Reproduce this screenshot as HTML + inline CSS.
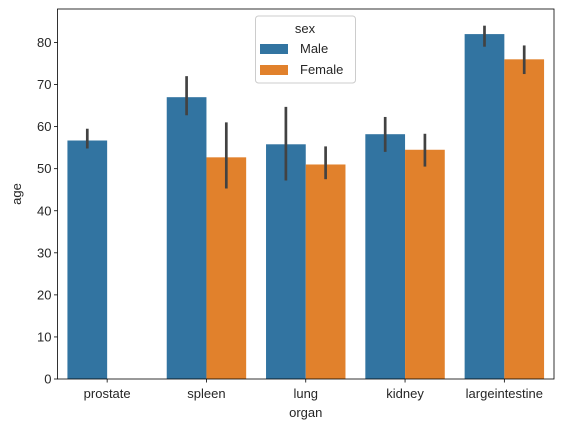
<!DOCTYPE html>
<html><head><meta charset="utf-8"><style>
body{margin:0;background:#fff;font-family:"Liberation Sans","DejaVu Sans",sans-serif;}
text{font-family:"Liberation Sans","DejaVu Sans",sans-serif;font-size:13px;fill:#262626;}
</style></head><body>
<svg id="chart" width="562" height="432" xmlns="http://www.w3.org/2000/svg"></svg>
<script>
const categories=["prostate","spleen","lung","kidney","largeintestine"];
const hues=["Male","Female"];
const maleVals=[56.7,67,55.8,58.2,82];
const maleLo=[54.8,62.7,47.2,54,79];
const maleHi=[59.5,72,64.7,62.3,84];
const femaleVals=[null,52.7,51,54.5,76];
const femaleLo=[null,45.3,47.5,50.5,72.5];
const femaleHi=[null,61,55.3,58.3,79.3];
const yTicks=[0,10,20,30,40,50,60,70,80];
const colors=["#3274a1","#e1812c"];
const L=57.5,R=554,T=9,B=379;
const ns="http://www.w3.org/2000/svg";
const svg=document.getElementById('chart');
function y(v){return B-v*(B-42.5)/80;}
const band=(R-L)/categories.length;
function mk(t,a,p){const e=document.createElementNS(ns,t);for(const k in a)e.setAttribute(k,a[k]);(p||svg).appendChild(e);return e;}
yTicks.forEach(v=>{
 const g=mk('g',{});
 
 
 mk('line',{x1:L-3.5,x2:L,y1:y(v),y2:y(v),stroke:'#000','stroke-width':0.8},g);
 const t=mk('text',{x:L-6,y:y(v)+4.5,'text-anchor':'end'},g);t.textContent=v;
});
const series=[[maleVals,maleLo,maleHi],[femaleVals,femaleLo,femaleHi]];
const bw=band*0.8/2;
categories.forEach((c,i)=>{
 const cx=L+band*(i+0.5);
 series.forEach((s,h)=>{
  const v=s[0][i]; if(v==null)return;
  const x0=cx-bw+h*bw;
  const r=mk('rect',{x:x0,y:y(v),width:bw,height:B-y(v),fill:colors[h]});
  
  
  const e=mk('line',{x1:x0+bw/2,x2:x0+bw/2,y1:y(s[1][i]),y2:y(s[2][i]),stroke:'#424242','stroke-width':2.7});
  
  
 });
 const g=mk('g',{});
 
 
 mk('line',{x1:cx,x2:cx,y1:B,y2:B+3.5,stroke:'#000','stroke-width':0.8},g);
 const t=mk('text',{x:cx,y:B+19,'text-anchor':'middle'},g);t.textContent=c;
});
const fr=mk('rect',{x:L,y:T,width:R-L,height:B-T,fill:'none',stroke:'#000','stroke-width':0.8});

const xt=mk('text',{x:(L+R)/2,y:417,'text-anchor':'middle'});xt.textContent='organ';

const yt=mk('text',{x:0,y:0,'text-anchor':'middle',transform:`translate(21,${(T+B)/2}) rotate(-90)`});yt.textContent='age';

const lg=mk('g',{});

mk('rect',{x:255.5,y:16,width:100,height:67,rx:3,fill:'#fff','fill-opacity':0.8,stroke:'#ccc'},lg);
const lt=mk('text',{x:305,y:33,'text-anchor':'middle'},lg);lt.textContent='sex';
hues.forEach((h,k)=>{
 const eg=mk('g',{},lg);
 
 
 mk('rect',{x:260,y:44+k*21,width:28,height:10,fill:colors[k]},eg);
 const tt=mk('text',{x:300,y:53+k*21},eg);tt.textContent=h;
});
</script>
</body></html>
